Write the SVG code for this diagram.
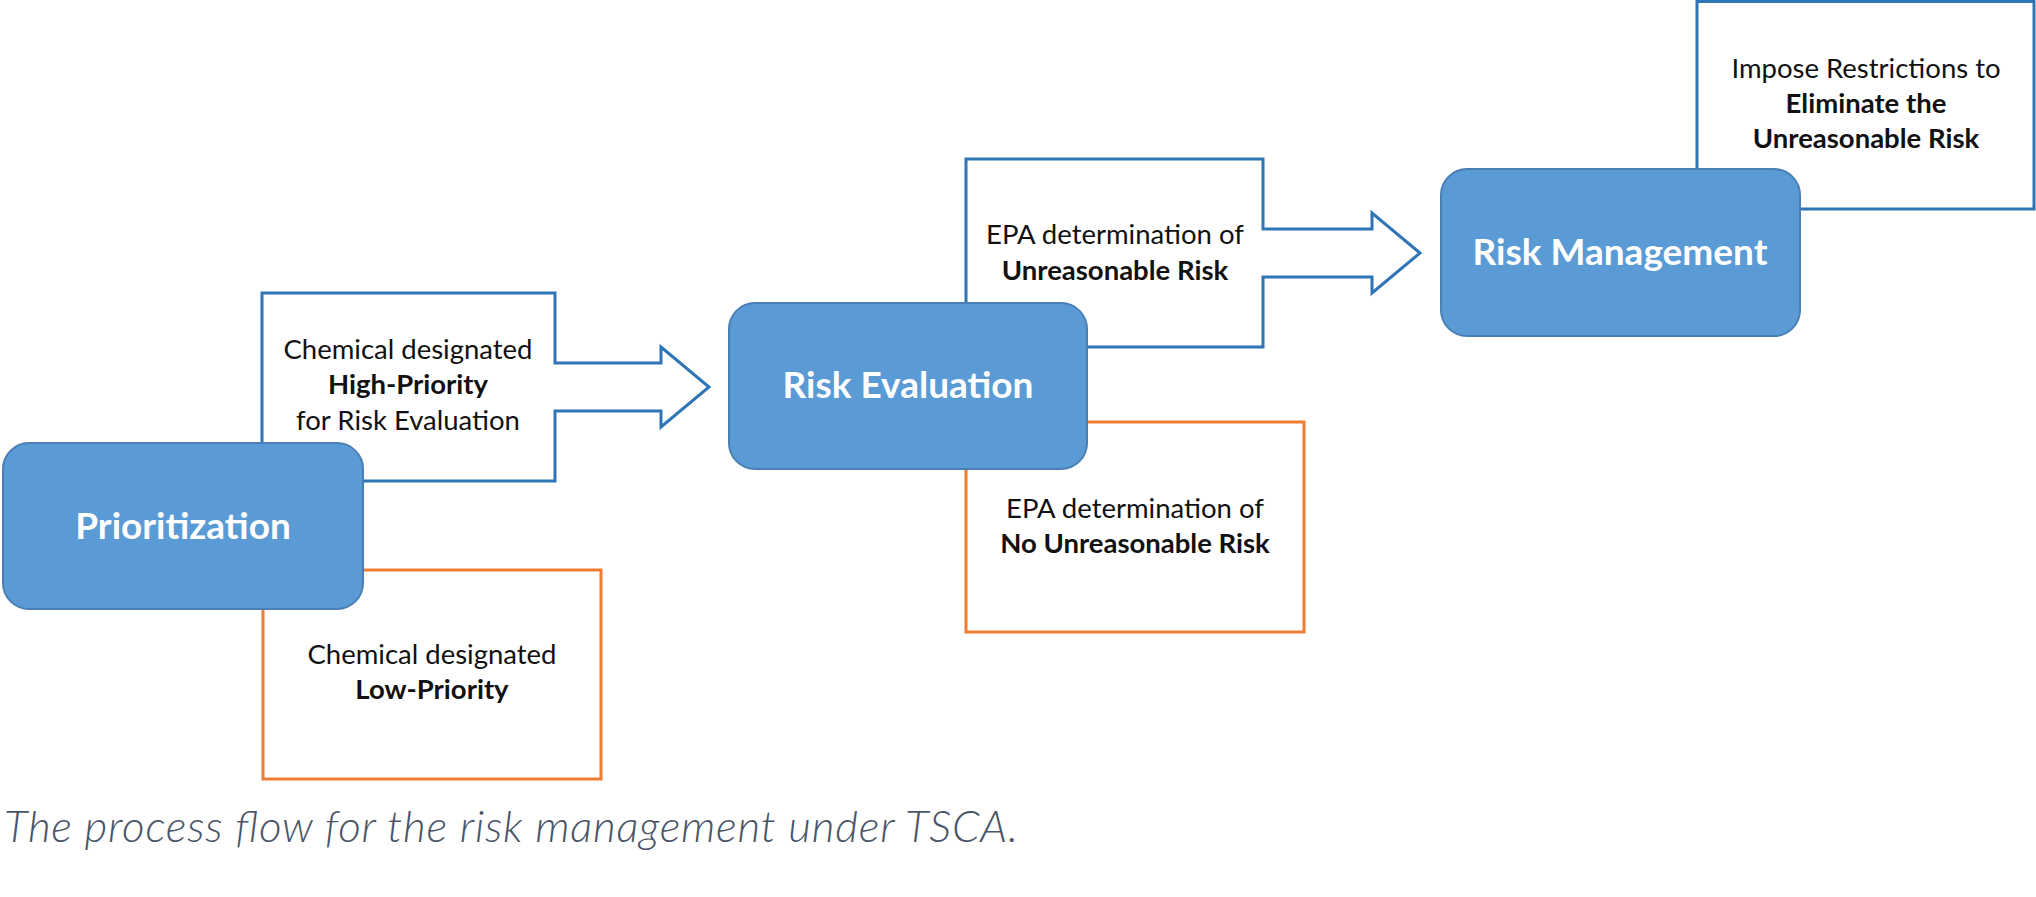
<svg xmlns="http://www.w3.org/2000/svg" width="2036" height="897" viewBox="0 0 2036 897">
<style>
.arrow{fill:#ffffff;stroke:#2E75B6;stroke-width:3}
.obox{fill:#ffffff;stroke:#ED7D31;stroke-width:3}
.bbox{fill:#ffffff;stroke:#2E75B6;stroke-width:3}
.node{fill:#5B9BD5;stroke:#4A7FB5;stroke-width:2}
.t{font-family:Lato,"Liberation Sans",sans-serif;font-size:27.5px;fill:#111;text-anchor:middle}
.b{font-weight:bold}
.h{font-family:Lato,"Liberation Sans",sans-serif;font-size:37px;font-weight:bold;fill:#ffffff;text-anchor:middle}
.cap{font-family:Lato,"Liberation Sans",sans-serif;font-size:44px;font-style:italic;font-weight:300;fill:#4a5568}
</style>
<rect width="2036" height="897" fill="#ffffff"/>
<g id="connectors">
  <g id="arrow-high-priority">
    <path class="arrow" d="M262,293 H555 V363 H661 V347 L709,387 L661,427 V411 H555 V481 H262 Z"/>
    <text class="t" x="408" y="359">Chemical designated</text>
    <text class="t b" x="408" y="394">High-Priority</text>
    <text class="t" x="408" y="430">for Risk Evaluation</text>
  </g>
  <g id="arrow-unreasonable-risk">
    <path class="arrow" d="M966,159 H1263 V229 H1372 V213 L1420,253 L1372,293 V277 H1263 V347 H966 Z"/>
    <text class="t" x="1115" y="244">EPA determination of</text>
    <text class="t b" x="1115" y="280">Unreasonable Risk</text>
  </g>
</g>
<g id="low-priority">
  <rect class="obox" x="263" y="570" width="338" height="209"/>
  <text class="t" x="432" y="664">Chemical designated</text>
  <text class="t b" x="432" y="699">Low-Priority</text>
</g>
<g id="no-unreasonable-risk">
  <rect class="obox" x="966" y="422" width="338" height="210"/>
  <text class="t" x="1135" y="518">EPA determination of</text>
  <text class="t b" x="1135" y="553">No Unreasonable Risk</text>
</g>
<g id="impose-restrictions">
  <rect class="bbox" x="1697" y="1.5" width="337" height="207.5"/>
  <text class="t" x="1866" y="78">Impose Restrictions to</text>
  <text class="t b" x="1866" y="113">Eliminate the</text>
  <text class="t b" x="1866" y="148">Unreasonable Risk</text>
</g>
<g id="prioritization">
  <rect class="node" x="3" y="443" width="360" height="166" rx="26"/>
  <text class="h" x="183" y="539">Prioritization</text>
</g>
<g id="risk-evaluation">
  <rect class="node" x="729" y="303" width="358" height="166" rx="26"/>
  <text class="h" x="908" y="398">Risk Evaluation</text>
</g>
<g id="risk-management">
  <rect class="node" x="1441" y="169" width="359" height="167" rx="26"/>
  <text class="h" x="1620" y="265">Risk Management</text>
</g>
<text class="cap" x="4" y="842" textLength="1014" lengthAdjust="spacing">The process flow for the risk management under TSCA.</text>
</svg>
